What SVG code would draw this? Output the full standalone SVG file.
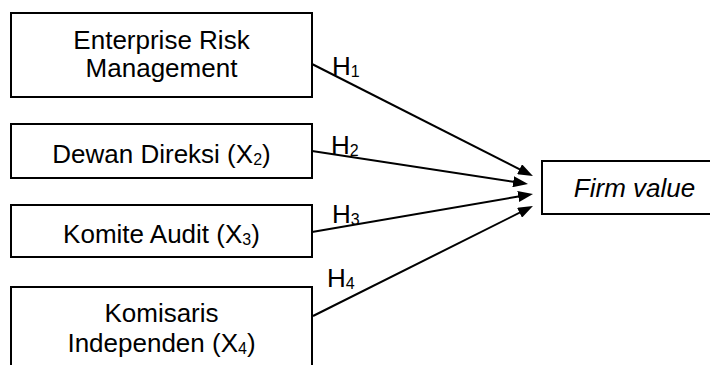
<svg xmlns="http://www.w3.org/2000/svg" width="710" height="365" viewBox="0 0 710 365">
<style>
.box{fill:#fff;stroke:#000;stroke-width:2}
.t{font-family:"Liberation Sans",Arial,sans-serif;font-size:26px;fill:#000;text-anchor:middle}
.h{font-family:"Liberation Sans",Arial,sans-serif;font-size:26px;fill:#000}
.sub{font-size:16px}
.ln{stroke:#000;stroke-width:2;fill:none;marker-end:url(#ah)}
</style>
<defs>
<marker id="ah" markerUnits="userSpaceOnUse" markerWidth="15" markerHeight="11" refX="9" refY="5.5" orient="auto">
<path d="M0,0 L15,5.5 L0,11 z" fill="#000"/>
</marker>
</defs>
<rect width="710" height="365" fill="#fff"/>
<g id="erm">
<rect class="box" x="11" y="13" width="301" height="84"/>
<text class="t" x="161.5" y="49">Enterprise Risk</text>
<text class="t" x="161.5" y="77">Management</text>
</g>
<g id="dewan">
<rect class="box" x="11" y="124" width="301" height="54"/>
<text class="t" x="161.5" y="163">Dewan Direksi (X<tspan class="sub" dy="2">2</tspan><tspan dy="-2">)</tspan></text>
</g>
<g id="komite">
<rect class="box" x="11" y="205" width="301" height="52"/>
<text class="t" x="161.5" y="243">Komite Audit (X<tspan class="sub" dy="2">3</tspan><tspan dy="-2">)</tspan></text>
</g>
<g id="komisaris">
<rect class="box" x="11" y="287" width="301" height="100"/>
<text class="t" x="161.5" y="322">Komisaris</text>
<text class="t" x="161.5" y="352">Independen (X<tspan class="sub" dy="2">4</tspan><tspan dy="-2">)</tspan></text>
</g>
<g id="firm">
<rect class="box" x="542" y="161" width="190" height="53"/>
<text class="t" x="634.5" y="197" font-style="italic">Firm value</text>
</g>
<g id="connectors">
<line class="ln" x1="312" y1="64" x2="527.6" y2="173.3"/>
<line class="ln" x1="312" y1="151" x2="522.1" y2="183.1"/>
<line class="ln" x1="312" y1="232" x2="527.1" y2="195"/>
<line class="ln" x1="313" y1="316" x2="527.6" y2="208.7"/>
<text class="h" x="332" y="75">H<tspan class="sub" dy="2">1</tspan></text>
<text class="h" x="331" y="154">H<tspan class="sub" dy="2">2</tspan></text>
<text class="h" x="332" y="223">H<tspan class="sub" dy="2">3</tspan></text>
<text class="h" x="327" y="287">H<tspan class="sub" dy="2">4</tspan></text>
</g>
</svg>
